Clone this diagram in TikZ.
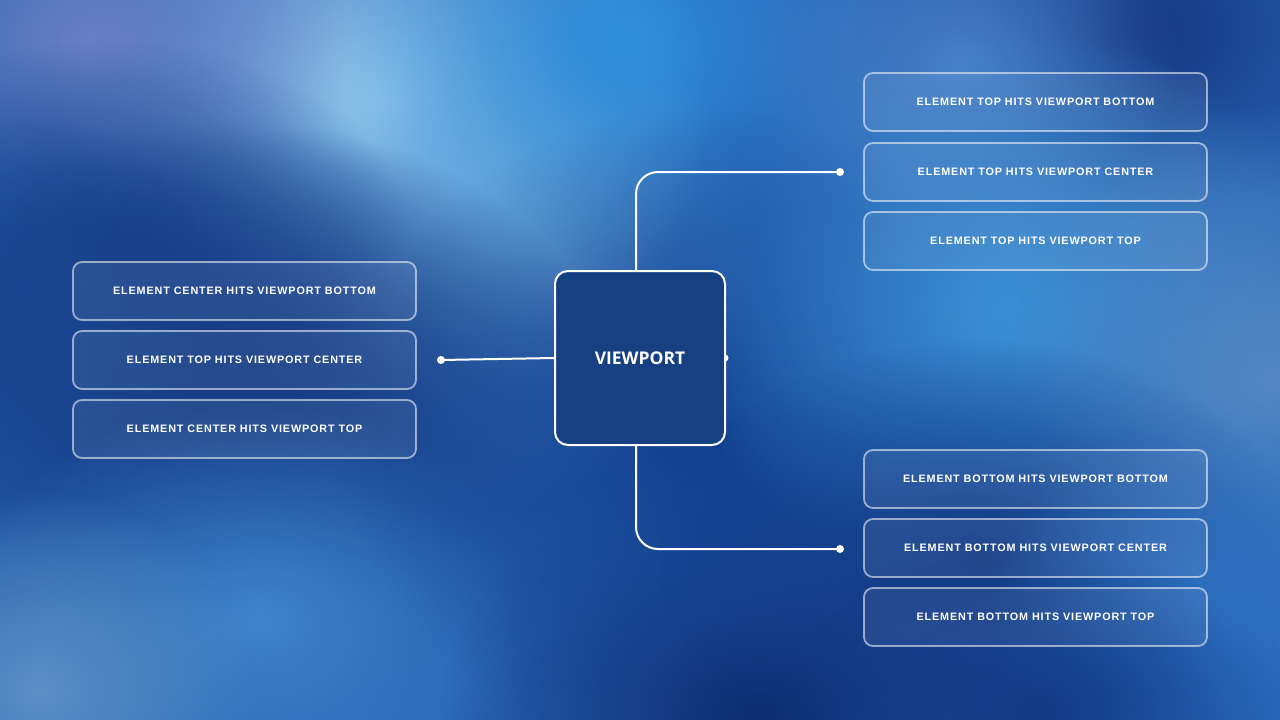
\documentclass[tikz,border=0pt]{standalone}
\usepackage{fontspec}
\setmainfont{Liberation Sans}
\newfontfamily\labelfont[LetterSpace=8]{Liberation Sans}
\newfontfamily\titlefont{Open Sans}
\usetikzlibrary{fadings}

\definecolor{bgbase}{HTML}{2862B2}
\definecolor{vpblue}{HTML}{164082}
\definecolor{haze}{HTML}{9CCDEE}
\definecolor{sky}{HTML}{6FB0E2}
\definecolor{bright}{HTML}{2E8FDA}
\definecolor{lilac}{HTML}{6A7FC4}
\definecolor{navy}{HTML}{1A4690}
\definecolor{deep}{HTML}{163D86}
\definecolor{midblue}{HTML}{3F85CC}
\definecolor{greyblue}{HTML}{5C8FC4}
\definecolor{night}{HTML}{0D2A6E}
\definecolor{core}{HTML}{123F8E}
\definecolor{topnavy}{HTML}{143680}
\definecolor{soft}{HTML}{4A80C8}
\definecolor{glow}{HTML}{3B90D4}
\definecolor{edge}{HTML}{5588C4}
\definecolor{ocean}{HTML}{2E72C2}
\definecolor{abyss}{HTML}{123A85}

\tikzfading[name=blobfade, inner color=transparent!0, outer color=transparent!100]

\tikzset{
  blob/.style={fill=#1, path fading=blobfade},
  trigger/.style={draw=white, draw opacity=0.55, line width=1.8pt, fill=white,
    fill opacity=0.07, text opacity=1, text=white, rounded corners=9pt,
    minimum width=343pt, minimum height=58pt,
    font=\labelfont\bfseries\fontsize{10.8}{12}\selectfont},
  viewbox/.style={draw=white, line width=2pt, fill=vpblue, text=white,
    rounded corners=13pt, minimum width=170pt, minimum height=174pt,
    font=\titlefont\bfseries\fontsize{17.5}{20}\selectfont},
  wire/.style={draw=white, line width=2pt},
  wiredot/.style={fill=white}
}

\begin{document}
\begin{tikzpicture}[x=1pt,y=1pt]

  %% Background
  \useasboundingbox (0,0) rectangle (1280,-720);
  \fill[bgbase] (0,0) rectangle (1280,-720);
  \fill[blob=haze] (380,-100) ellipse (330 and 300);
  \fill[blob=sky] (480,-250) ellipse (280 and 260);
  \fill[blob=bright] (620,-40) ellipse (280 and 220);
  \fill[blob=lilac] (90,-40) ellipse (260 and 220);
  \fill[blob=navy] (110,-240) ellipse (300 and 200);
  \fill[blob=deep] (250,-430) ellipse (380 and 300);
  \fill[blob=deep] (230,-360) ellipse (360 and 240);
  \fill[blob=navy] (20,-330) ellipse (200 and 220);
  \fill[blob=midblue] (260,-620) ellipse (300 and 220);
  \fill[blob=greyblue] (40,-690) ellipse (220 and 200);
  \fill[blob=night] (760,-710) ellipse (320 and 240);
  \fill[blob=core] (700,-430) ellipse (360 and 320);
  \fill[blob=topnavy] (1130,-30) ellipse (280 and 200);
  \fill[blob=soft] (960,-60) ellipse (220 and 180);
  \fill[blob=glow] (1010,-310) ellipse (340 and 280);
  \fill[blob=edge] (1270,-380) ellipse (260 and 280);
  \fill[blob=abyss] (980,-560) ellipse (320 and 220);
  \fill[blob=ocean] (1230,-620) ellipse (240 and 220);
  \fill[blob=abyss] (1040,-710) ellipse (260 and 160);

  %% Viewport
  \fill[wiredot] (725,-358) circle (3.5);
  \node[viewbox] (vp) at (640,-358) {VIEWPORT};

  %% Left column
  \node[trigger] (centerbottom) at (244.5,-291) {ELEMENT CENTER HITS VIEWPORT BOTTOM};
  \node[trigger] (topcenterl) at (244.5,-360) {ELEMENT TOP HITS VIEWPORT CENTER};
  \node[trigger] (centertop) at (244.5,-429) {ELEMENT CENTER HITS VIEWPORT TOP};

  %% Right column, top
  \node[trigger] (topbottom) at (1035.5,-102) {ELEMENT TOP HITS VIEWPORT BOTTOM};
  \node[trigger] (topcenter) at (1035.5,-172) {ELEMENT TOP HITS VIEWPORT CENTER};
  \node[trigger] (toptop) at (1035.5,-241) {ELEMENT TOP HITS VIEWPORT TOP};

  %% Right column, bottom
  \node[trigger] (bottombottom) at (1035.5,-479) {ELEMENT BOTTOM HITS VIEWPORT BOTTOM};
  \node[trigger] (bottomcenter) at (1035.5,-548) {ELEMENT BOTTOM HITS VIEWPORT CENTER};
  \node[trigger] (bottomtop) at (1035.5,-617) {ELEMENT BOTTOM HITS VIEWPORT TOP};

  %% Connectors
  \coordinate (leftend) at (441,-360);
  \coordinate (topend) at (840,-172);
  \coordinate (bottomend) at (840,-549);
  \draw[wire] (leftend) -- (vp.west);
  \draw[wire, rounded corners=22pt] ([xshift=-4pt]vp.north) |- (topend);
  \draw[wire, rounded corners=22pt] ([xshift=-4pt]vp.south) |- (bottomend);
  \fill[wiredot] (leftend) circle (4);
  \fill[wiredot] (topend) circle (4);
  \fill[wiredot] (bottomend) circle (4);

\end{tikzpicture}
\end{document}
